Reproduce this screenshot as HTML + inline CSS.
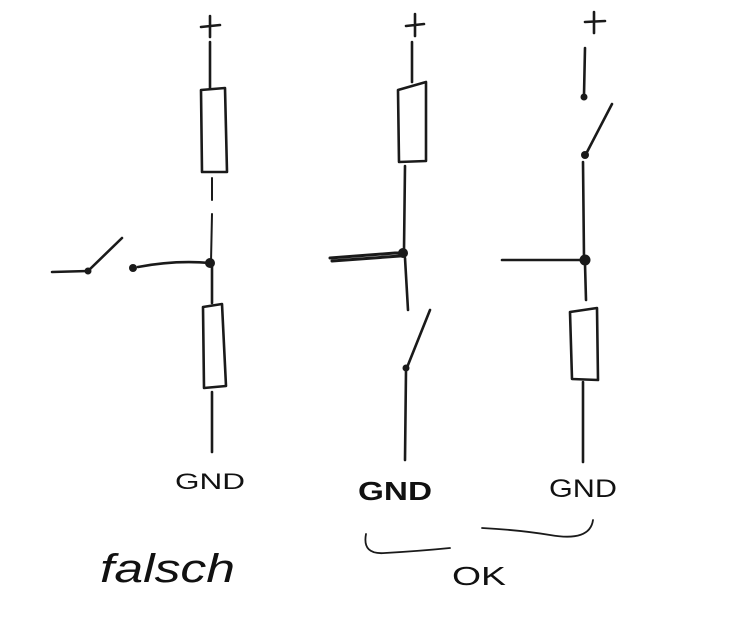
<!DOCTYPE html>
<html><head><meta charset="utf-8"><style>
html,body{margin:0;padding:0;background:#fff;}
svg{display:block;}
text{font-family:"Liberation Sans",sans-serif;fill:#111;}
</style></head><body>
<svg width="735" height="636" viewBox="0 0 735 636" xmlns="http://www.w3.org/2000/svg">
<g stroke="#1a1a1a" stroke-width="2.6" fill="none" stroke-linecap="round" stroke-linejoin="round">
<!-- Circuit 1 -->
<path d="M201 27 L220 25 M210 16 L210 37"/>
<path d="M210 42 L210 88"/>
<path d="M201 90 L225 88 L227 172 L202 172 Z"/>
<path d="M212 178 L212 200 M212 214 L211 262" stroke-width="2"/>
<path d="M212 266 L212 303"/>
<path d="M203 307 L222 304 L226 386 L204 388 Z"/>
<path d="M212 392 L212 452"/>
<path d="M52 272 L88 271 L122 238"/>
<path d="M138 267 Q175 260 210 263"/>
<!-- Circuit 2 -->
<path d="M406 26 L424 24 M415 14 L415 36"/>
<path d="M412 42 L412 82"/>
<path d="M398 90 L426 82 L426 161 L399 162 Z"/>
<path d="M405 166 L404 250"/>
<path d="M330 258 L395 253 L403 253 M332 261 L400 256" stroke-width="3"/>
<path d="M405 258 L408 310"/>
<path d="M430 310 L406 370 L405 460"/>
<!-- Circuit 3 -->
<path d="M585 22 L605 21 M594 12 L594 33"/>
<path d="M585 48 L584 95"/>
<path d="M612 104 L586 154"/>
<path d="M583 162 L584 258"/>
<path d="M502 260 L585 260"/>
<path d="M585 264 L586 300"/>
<path d="M570 312 L597 308 L598 380 L572 379 Z"/>
<path d="M583 382 L583 462"/>
<!-- brace -->
<path d="M366 534 Q362 555 385 553 Q420 551 450 548 M482 528 Q520 530 550 535 Q590 542 593 520" stroke-width="1.8"/>
</g>
<g fill="#1a1a1a">
<circle cx="88" cy="271" r="3.5"/><circle cx="133" cy="268" r="4"/><circle cx="210" cy="263" r="5"/>
<circle cx="403" cy="253" r="5"/><circle cx="406" cy="368" r="3.5"/>
<circle cx="584" cy="97" r="3.5"/><circle cx="585" cy="155" r="4"/><circle cx="585" cy="260" r="5.5"/>
</g>
<text x="175" y="489" font-size="22" textLength="70" lengthAdjust="spacingAndGlyphs">GND</text>
<text x="358" y="500" font-size="26" textLength="74" lengthAdjust="spacingAndGlyphs" font-weight="bold">GND</text>
<text x="549" y="497" font-size="25" textLength="68" lengthAdjust="spacingAndGlyphs">GND</text>
<text x="100" y="582" font-size="40" font-family="Liberation Serif" font-style="italic" textLength="135" lengthAdjust="spacingAndGlyphs">falsch</text>
<text x="452" y="585" font-size="26" textLength="54" lengthAdjust="spacingAndGlyphs">OK</text>
</svg>
</body></html>
